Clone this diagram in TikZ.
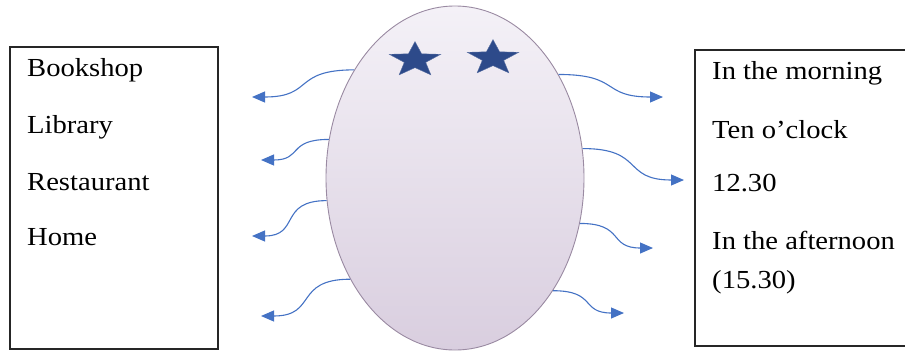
\documentclass[tikz,border=0pt]{standalone}
\usepackage{fontspec}
\setmainfont{Liberation Serif}
\usepackage{tikz}
\usepackage{xcolor}
\usetikzlibrary{
  positioning, arrows.meta, shapes.geometric, calc,
}
\definecolor{cInk}      {HTML}{262626}
\definecolor{cEggTop}   {HTML}{F4F1F7}
\definecolor{cEggBot}   {HTML}{D9CEDF}
\definecolor{cEggLine}  {HTML}{9A8AA2}
\definecolor{cStar}     {HTML}{2D4A8A}
\definecolor{cWave}     {HTML}{4472C4}

\begin{document}
\begin{tikzpicture}[x=1pt, y=-1pt,
    listbox/.style={draw=cInk, line width=1.2pt, inner sep=0pt},
    item/.style={anchor=west, inner sep=0pt, text=black,
                 font=\fontsize{26}{30}\selectfont,
                 xscale=1.1, transform shape},
    wave/.style={draw=cWave, line width=1.1pt, looseness=1.5,
                 -{Triangle[length=13pt, width=11pt]}},
    starmark/.style={star, star points=5, star point ratio=2.4,
                     minimum size=54pt, inner sep=0pt, fill=cStar,
                     draw=cStar!80!white, line width=0.4pt,
                     yscale=0.68, transform shape},
  ]
  \useasboundingbox (0,0) rectangle (905,356);

  % left list: places
  \draw[listbox] (10,47) rectangle (218,349);
  \node[item] (bookshop)   at (27,70)  {Bookshop};
  \node[item] (library)    at (27,127) {Library};
  \node[item] (restaurant) at (27,182) {Restaurant};
  \node[item] (home)       at (27,237) {Home};

  % right list: times
  \draw[listbox] (695,50) rectangle (912,346);
  \node[item] (morning)   at (712,73)  {In the morning};
  \node[item] (tenoclock) at (712,130) {Ten o'clock};
  \node[item] (noon)      at (712,183) {12.30};
  \node[item] (afternoon) at (712,240) {In the afternoon};
  \node[item] (aftertime) at (712,282) {(15.30)};

  % the egg in the middle
  \node[ellipse, minimum width=258pt, minimum height=344pt, inner sep=0pt,
        top color=cEggTop, bottom color=cEggBot, draw=cEggLine,
        line width=0.9pt] (egg) at (455,178) {};
  \node[starmark] (starA) at (415,60) {};
  \node[starmark] (starB) at (493,58) {};

  % arrows out to the left
  \coordinate (tipL1) at (252,97);
  \coordinate (tipL2) at (261,160);
  \coordinate (tipL3) at (252,236);
  \coordinate (tipL4) at (261,316);
  \draw[wave] (egg.133) to[out=180, in=0] (tipL1);
  \draw[wave] (egg.163) to[out=180, in=0] (tipL2);
  \draw[wave] (egg.190) to[out=180, in=0] (tipL3);
  \draw[wave] (egg.224) to[out=180, in=0] (tipL4);

  % arrows out to the right
  \coordinate (tipR1) at (663,97);
  \coordinate (tipR2) at (684,180);
  \coordinate (tipR3) at (653,248);
  \coordinate (tipR4) at (624,313);
  \draw[wave] (egg.45)  to[out=0, in=180] (tipR1);
  \draw[wave] (egg.13)  to[out=0, in=180] (tipR2);
  \draw[wave] (egg.-20) to[out=0, in=180] (tipR3);
  \draw[wave] (egg.-49) to[out=0, in=180] (tipR4);
\end{tikzpicture}
\end{document}
